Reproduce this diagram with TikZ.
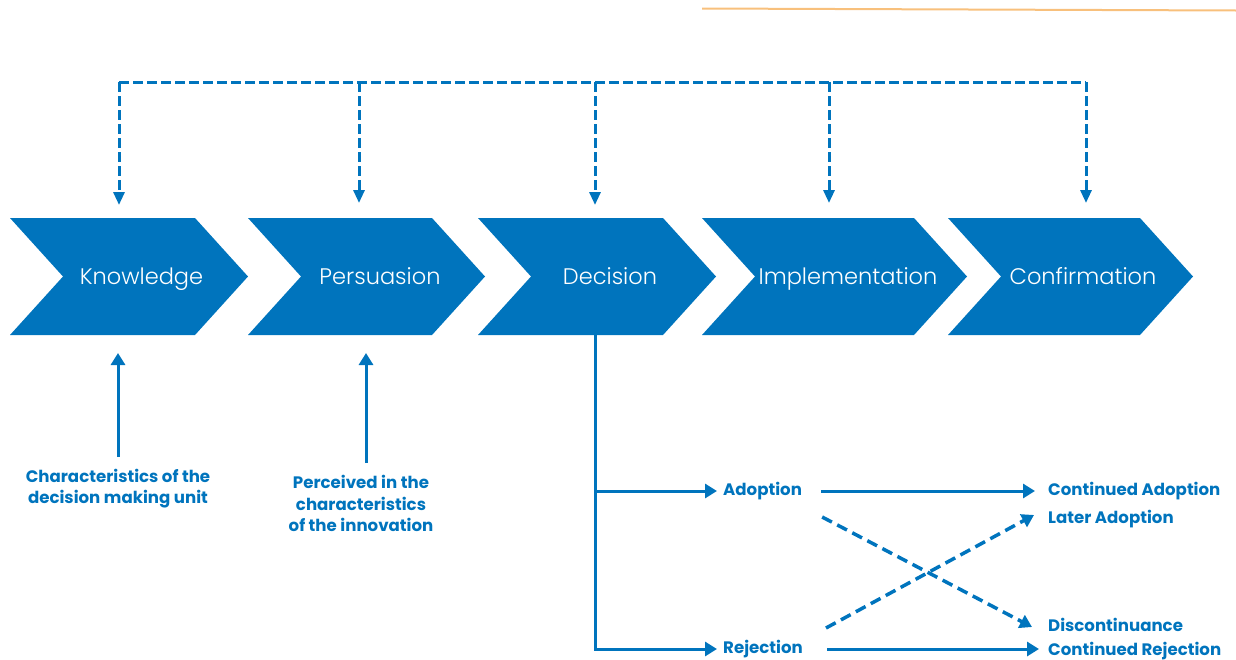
\documentclass[tikz,border=0pt]{standalone}
\usepackage{fontspec}
\setmainfont{Poppins}
\newfontfamily\chevfont{Poppins Light}
\usetikzlibrary{arrows.meta,calc}
\definecolor{dblue}{RGB}{0,116,189}
\definecolor{lorange}{RGB}{248,192,124}
\begin{document}
\begin{tikzpicture}[x=1pt,y=-1pt,
  chevtext/.style={text=white,font=\chevfont\fontsize{22.5}{28}\selectfont,text height=16pt,text depth=0pt,minimum height=117pt,inner sep=0pt,outer sep=0pt},
  lbl/.style={text=dblue,font=\bfseries\fontsize{16.6}{21.5}\selectfont,inner sep=0pt},
  sol/.style={draw=dblue,line width=3pt},
  dsh/.style={draw=dblue,line width=3pt,dash pattern=on 10pt off 4pt},
  xdsh/.style={draw=dblue,line width=3.5pt,dash pattern=on 11pt off 6pt},
  tri/.style={-{Triangle[length=12pt,width=14pt]}},
  dtri/.style={-{Triangle[length=13pt,width=11pt]}}
]
\useasboundingbox (0,0) rectangle (1236,659);
% orange rule
\draw[lorange,line width=2pt] (702,8.5) -- (1236,10.5);
% chevrons
\fill[dblue] (10,218) -- (195,218) -- (248,276.5) -- (195,335) -- (10,335) -- (63,276.5) -- cycle;
\fill[dblue] (248,218) -- (432,218) -- (485,276.5) -- (432,335) -- (248,335) -- (301,276.5) -- cycle;
\fill[dblue] (478,218) -- (663,218) -- (716,276.5) -- (663,335) -- (478,335) -- (531,276.5) -- cycle;
\fill[dblue] (702,218) -- (914,218) -- (967,276.5) -- (914,335) -- (702,335) -- (755,276.5) -- cycle;
\fill[dblue] (948,218) -- (1140,218) -- (1193,276.5) -- (1140,335) -- (948,335) -- (1001,276.5) -- cycle;
\node[chevtext] (K) at (141.5,276.5) {Knowledge};
\node[chevtext] (P) at (380,276.5) {Persuasion};
\node[chevtext] (D) at (610,276.5) {Decision};
\node[chevtext] (I) at (848,276.5) {Implementation};
\node[chevtext] (C) at (1083,276.5) {Confirmation};
% top dashed feedback
\coordinate (t1) at (119,82);
\coordinate (t2) at (359,82);
\coordinate (t3) at (595,82);
\coordinate (t4) at (829,82);
\coordinate (t5) at (1086,82);
\draw[dsh] (t1) -- (t5);
\draw[dsh,dtri,shorten >=13pt] (t1) -- (t1 |- K.north);
\draw[dsh,dtri,shorten >=15pt] (t2) -- (t2 |- P.north);
\draw[dsh,dtri,shorten >=13pt] (t3) -- (t3 |- D.north);
\draw[dsh,dtri,shorten >=15pt] (t4) -- (t4 |- I.north);
\draw[dsh,dtri,shorten >=15pt] (t5) -- (t5 |- C.north);
% bottom labels
\node[lbl,align=center] (l1) at (118,488.5) {Characteristics of the\\decision making unit};
\node[lbl,align=center] (l2) at (361,503.5) {Perceived in the\\characteristics\\of the innovation};
\draw[sol,tri,shorten <=12pt,shorten >=18pt] (l1.north) -- (l1.north |- K.south);
\draw[sol,tri,shorten <=12pt,shorten >=18pt] ([xshift=5pt]l2.north) -- ([xshift=5pt]l2.north |- P.south);
% decision branches
\coordinate (dtop) at (595,335);
\node[lbl,anchor=west] (ad) at (723,491) {Adoption};
\node[lbl,anchor=west] (rj) at (723,649) {Rejection};
\node[lbl,anchor=west] (ca) at (1048,491) {Continued Adoption};
\node[lbl,anchor=west] (la) at (1048,519) {Later Adoption};
\node[lbl,anchor=west] (dc) at (1048,625) {Discontinuance};
\node[lbl,anchor=west] (cr) at (1048,651) {Continued Rejection};
\draw[sol,tri,shorten >=6pt] (dtop) |- (ad.west);
\draw[sol,tri,shorten >=6pt] (dtop) |- (rj.west);
\draw[sol,tri,shorten <=19pt,shorten >=13pt] (ad.east) -- (ad.east -| ca.west);
\draw[sol,tri,shorten <=24pt,shorten >=9pt] (rj.east) -- (rj.east -| cr.west);
\draw[xdsh,tri] ($(ad.east)+(20,26)$) -- ($(dc.west)+(-16,2)$);
\draw[xdsh,tri] ($(rj.east)+(23,-21)$) -- ($(la.west)+(-14,-4)$);
\end{tikzpicture}
\end{document}
